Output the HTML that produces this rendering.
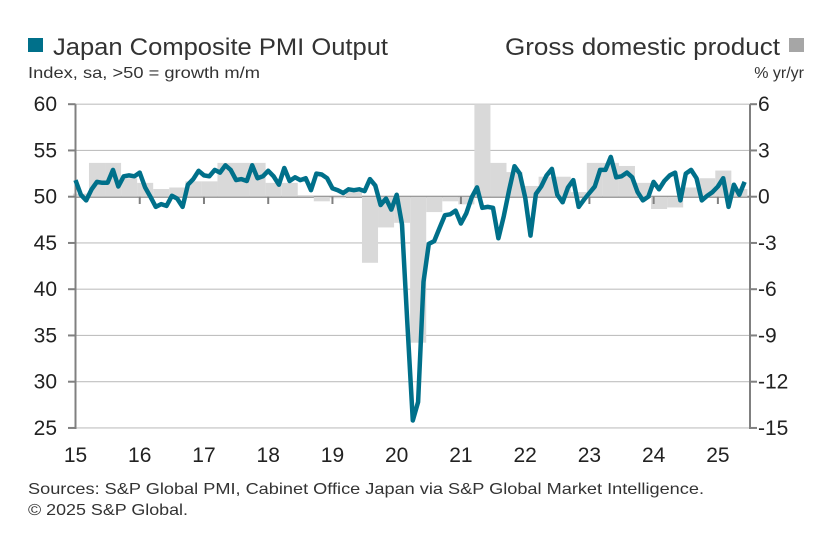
<!DOCTYPE html>
<html><head><meta charset="utf-8"><style>
body{margin:0;background:#fff;}
svg{display:block;font-family:"Liberation Sans Narrow","Liberation Sans",sans-serif;}
</style></head><body>
<svg id="chart" width="826" height="533" viewBox="0 0 826 533">
<rect x="28" y="38" width="15" height="14" fill="#00708a"/>
<text x="53" y="55" font-size="24" fill="#333" textLength="335" lengthAdjust="spacingAndGlyphs">Japan Composite PMI Output</text>
<text x="28" y="78" font-size="16" fill="#333" textLength="232" lengthAdjust="spacingAndGlyphs">Index, sa, &gt;50 = growth m/m</text>
<text x="505" y="55" font-size="24" fill="#333" textLength="275" lengthAdjust="spacingAndGlyphs">Gross domestic product</text>
<rect x="789" y="38" width="15" height="14" fill="#a6a6a6"/>
<text x="804" y="78" font-size="16" fill="#333" text-anchor="end">% yr/yr</text>
<g id="grid"></g>
<g id="bars"></g>
<g id="axes"></g>
<path id="line" fill="none" stroke="#00708a" stroke-width="4.5" stroke-linejoin="round"/>
<g id="labels"></g>
<text x="28" y="494" font-size="16" fill="#333" textLength="676" lengthAdjust="spacingAndGlyphs">Sources: S&amp;P Global PMI, Cabinet Office Japan via S&amp;P Global Market Intelligence.</text>
<text x="28" y="515" font-size="16" fill="#333" textLength="160" lengthAdjust="spacingAndGlyphs">© 2025 S&amp;P Global.</text>
</svg>
<script>
const pmi = [
51.8,50.2,49.6,50.8,51.6,51.5,51.5,52.9,51.1,52.2,52.3,52.2,
52.6,51.0,50.0,48.9,49.2,49.0,50.1,49.8,48.9,51.3,51.9,52.8,
52.3,52.2,52.9,52.6,53.4,52.9,51.8,51.9,51.7,53.4,52.0,52.2,
52.8,52.2,51.3,53.1,51.7,52.1,51.8,52.0,50.7,52.5,52.4,52.0,
50.9,50.7,50.4,50.8,50.7,50.8,50.6,51.9,51.2,49.1,49.8,48.6,
50.2,47.0,36.2,25.8,27.8,40.8,44.9,45.2,46.6,48.0,48.1,48.5,
47.1,48.2,49.9,51.0,48.8,48.9,48.8,45.5,47.9,50.7,53.3,52.5,
49.9,45.8,50.3,51.1,52.3,53.0,50.2,49.4,51.0,51.8,48.9,49.7,
50.4,51.1,52.9,52.9,54.3,52.1,52.2,52.6,52.1,50.5,49.6,50.0,
51.6,50.8,51.7,52.3,52.6,49.6,52.5,52.9,52.0,49.6,50.1,50.5,
51.1,52.0,48.9,51.3,50.2,51.6];
const gdp = [0.2,2.2,2.2,1.2,0.9,0.5,0.6,1.0,1.0,2.2,2.2,2.2,0.9,0.9,0.1,-0.3,-0.1,0.3,
-4.3,-2.0,-1.7,-9.5,-1.0,-0.3,-0.5,7.0,2.2,1.6,0.7,1.3,1.3,0.3,2.2,2.2,2.0,0.9,-0.8,-0.7,0.6,1.2,1.7,0.5];
const yearLabels = ["15","16","17","18","19","20","21","22","23","24","25"];
const leftTicks = [60,55,50,45,40,35,30,25];
const rightTicks = ["6","3","0","-3","-6","-9","-12","-15"];

const NS="http://www.w3.org/2000/svg";
const X0=75.5, XR=750, MW=(XR-X0)/126;
const yL=v=>196.7-(v-50)*9.25;
const yR=v=>196.7-v*15.37;
const xM=i=>X0+i*MW;
function mk(tag,attrs,parent){const e=document.createElementNS(NS,tag);for(const k in attrs)e.setAttribute(k,attrs[k]);document.getElementById(parent).appendChild(e);return e;}

leftTicks.forEach((t,i)=>{
  const y=yL(t);
  const g=mk('line',{x1:X0,x2:XR,y1:y,y2:y,stroke:t===50?'#808080':'#c0c0c0','stroke-width':t===50?2:1.2},'grid');
  
  
  const l=mk('text',{x:57,y:y+7,'font-size':21,'text-anchor':'end',fill:'#222'},'labels');
  l.textContent=t;
  
  
  const r=mk('text',{x:758,y:y+7,'font-size':21,fill:'#222'},'labels');
  r.textContent=rightTicks[i];
  
  
  const tl=mk('line',{x1:68,x2:X0,y1:y,y2:y,stroke:'#808080','stroke-width':2},'axes');
  
  
  const tr=mk('line',{x1:XR,x2:757,y1:y,y2:y,stroke:'#808080','stroke-width':2},'axes');
  
  
});
gdp.forEach((v,k)=>{
  const x=X0-2.6+k*3*MW;
  let y0=yR(0), y1=Math.max(yR(v),yL(60));
  const b=mk('rect',{x:x,y:Math.min(y0,y1),width:3*MW,height:Math.abs(y1-y0),fill:'#d9d9d9'},'bars');
  
  
});
const la=mk('line',{x1:X0,x2:X0,y1:yL(60),y2:yL(25)+1,stroke:'#808080','stroke-width':2},'axes');


const ra=mk('line',{x1:XR,x2:XR,y1:yL(60),y2:yL(25)+1,stroke:'#808080','stroke-width':2},'axes');


yearLabels.forEach((t,i)=>{
  const x=xM(i*12);
  if(i>0){const tk=mk('line',{x1:x,x2:x,y1:196.7,y2:204,stroke:'#808080','stroke-width':2},'axes');
  
  }
  const l=mk('text',{x:x,y:462,'font-size':21,'text-anchor':'middle',fill:'#222'},'labels');
  l.textContent=t;
  
  
});
document.getElementById('line').setAttribute('d',pmi.map((v,i)=>(i?'L':'M')+xM(i).toFixed(1)+','+yL(v).toFixed(1)).join(''));
</script>
</body></html>
